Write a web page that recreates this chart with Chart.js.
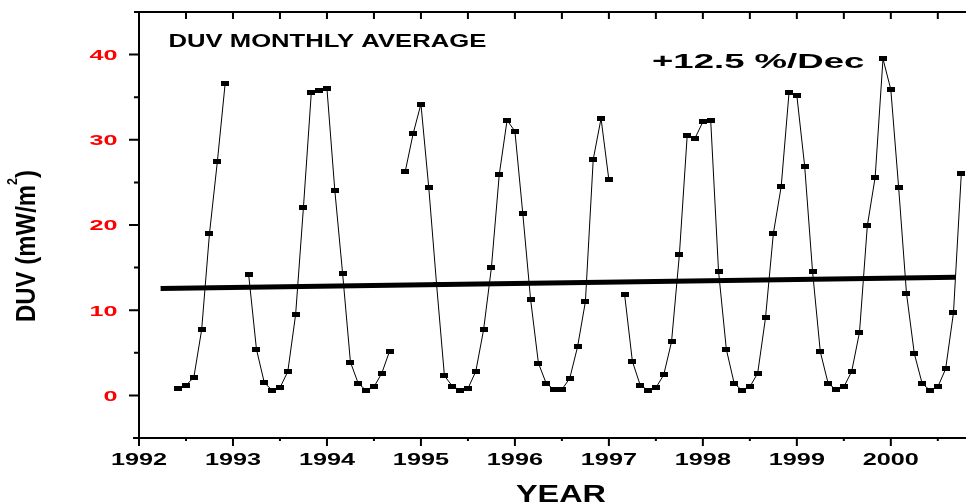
<!DOCTYPE html>
<html>
<head>
<meta charset="utf-8">
<script src="https://cdn.jsdelivr.net/npm/chart.js@4.4.0/dist/chart.umd.min.js"></script>
<style>
  html, body { margin: 0; padding: 0; background: #fff; }
  #wrap { width: 971px; height: 504px; }
</style>
</head>
<body>
<div id="wrap"><canvas id="duv-chart" width="971" height="504"></canvas></div>
<script>
// monthly DUV averages (mW/m2), Jan..Dec, null = no data
const duv1992 = [null, null, null, null, 0.8, 1.2, 2.1, 7.7, 19.0, 27.4, 36.6, null];
const duv1993 = [null, 14.2, 5.4, 1.5, 0.6, 0.9, 2.8, 9.5, 22.1, 35.5, 35.8, 36.0];
const duv1994 = [24.1, 14.3, 3.9, 1.4, 0.6, 1.0, 2.6, 5.2, null, 26.3, 30.7, 34.2];
const duv1995 = [24.4, 13.0, 2.3, 1.1, 0.6, 0.8, 2.8, 7.7, 15.0, 25.9, 32.3, 31.0];
const duv1996 = [21.4, 11.3, 3.8, 1.4, 0.7, 0.7, 2.0, 5.7, 11.0, 27.7, 32.5, 25.3];
const duv1997 = [null, 11.9, 4.0, 1.2, 0.6, 0.9, 2.4, 6.3, 16.5, 30.5, 30.2, 32.1];
const duv1998 = [32.3, 14.6, 5.4, 1.4, 0.6, 1.0, 2.6, 9.1, 19.0, 24.5, 35.5, 35.2];
const duv1999 = [26.9, 14.6, 5.1, 1.4, 0.7, 1.0, 2.8, 7.4, 19.9, 25.6, 39.5, 35.9];
const duv2000 = [24.4, 12.0, 4.9, 1.4, 0.6, 1.0, 3.1, 9.7, 26.0];

const years = [1992, 1993, 1994, 1995, 1996, 1997, 1998, 1999, 2000];
const yearSeries = [duv1992, duv1993, duv1994, duv1995, duv1996, duv1997, duv1998, duv1999, duv2000];

// linear trend (+12.5 %/decade)
const trendYears = [1992.23, 2000.69];
const trendValues = [12.55, 13.88];

const yearTickLabels = ['1992', '1993', '1994', '1995', '1996', '1997', '1998', '1999', '2000'];
const valueTickLabels = ['0', '10', '20', '30', '40'];

const chartTitle = 'DUV MONTHLY AVERAGE';
const trendLabel = '+12.5 %/Dec';

// decimal year = year + month/12 (Dec lands on the next year)
const points = [];
years.forEach((yr, k) => {
  yearSeries[k].forEach((v, m) => points.push({ x: yr + (m + 1) / 12, y: v }));
});

// small filled black rectangle used as marker
const marker = document.createElement('canvas');
marker.width = 8;
marker.height = 5;
const mctx = marker.getContext('2d');
mctx.fillStyle = '#000';
mctx.fillRect(0, 0, 8, 5);

const FONT = '"Liberation Sans", Arial, sans-serif';

function drawText(ctx, str, px, py, size, sx, align, color) {
  ctx.save();
  ctx.font = 'bold ' + size + 'px ' + FONT;
  ctx.fillStyle = color;
  ctx.textAlign = align;
  ctx.textBaseline = 'alphabetic';
  ctx.translate(px, py);
  ctx.scale(sx, 1);
  ctx.fillText(str, 0, 0);
  ctx.restore();
}

const frame = {
  id: 'frame',
  afterDraw(chart) {
    const { ctx, chartArea: a, scales: { x, y } } = chart;
    ctx.save();
    ctx.strokeStyle = '#000';
    ctx.lineWidth = 2;
    ctx.beginPath();
    ctx.moveTo(a.left, a.top);
    ctx.lineTo(a.left, a.bottom);
    ctx.moveTo(a.left, a.bottom);
    ctx.lineTo(a.right, a.bottom);
    ctx.moveTo(a.left, a.top);
    ctx.lineTo(a.right, a.top);

    // year ticks: major below, half-year minor; top axis ticks point inward
    yearTickLabels.forEach(lbl => {
      const px = x.getPixelForValue(+lbl);
      const ph = x.getPixelForValue(+lbl + 0.5);
      ctx.moveTo(px, a.bottom); ctx.lineTo(px, a.bottom + 8);
      ctx.moveTo(ph, a.bottom); ctx.lineTo(ph, a.bottom + 3);
      ctx.moveTo(px, a.top); ctx.lineTo(px, a.top + 7);
      ctx.moveTo(ph, a.top); ctx.lineTo(ph, a.top + 7);
    });

    // value ticks: major every 10, minor in between
    valueTickLabels.forEach(lbl => {
      const py = y.getPixelForValue(+lbl);
      ctx.moveTo(a.left, py); ctx.lineTo(a.left - 10, py);
      const pm = y.getPixelForValue(+lbl + 5);
      ctx.moveTo(a.left, pm); ctx.lineTo(a.left - 5, pm);
    });
    const pLow = y.getPixelForValue(-5);
    ctx.moveTo(a.left, pLow); ctx.lineTo(a.left - 6, pLow);
    ctx.stroke();

    yearTickLabels.forEach(lbl => {
      drawText(ctx, lbl, x.getPixelForValue(+lbl), 465, 16.3, 1.55, 'center', '#000');
    });
    valueTickLabels.forEach(lbl => {
      drawText(ctx, lbl, 117.5, y.getPixelForValue(+lbl) + 5.4, 15, 1.68, 'right', '#ff0000');
    });

    drawText(ctx, chartTitle, 168.5, 46.7, 17.7, 1.45, 'left', '#000');
    drawText(ctx, trendLabel, 652, 68, 21, 1.74, 'left', '#000');
    drawText(ctx, 'YEAR', 561, 502, 24, 1.35, 'center', '#000');

    // rotated y title with superscript
    ctx.save();
    ctx.translate(35, 246);
    ctx.rotate(-Math.PI / 2);
    ctx.fillStyle = '#000';
    ctx.textBaseline = 'alphabetic';
    ctx.textAlign = 'left';
    const big = 'bold 27px ' + FONT;
    const small = 'bold 14px ' + FONT;
    ctx.font = big;
    const w1 = ctx.measureText('DUV (mW/m').width;
    const w3 = ctx.measureText(')').width;
    ctx.font = small;
    const w2 = ctx.measureText('2').width;
    const total = w1 + w2 + w3;
    ctx.scale(152 / total, 1);
    const start = -total / 2;
    ctx.font = big;
    ctx.fillText('DUV (mW/m', start, 0);
    ctx.fillText(')', start + w1 + w2, 0);
    ctx.font = small;
    ctx.fillText('2', start + w1, -18);
    ctx.restore();

    ctx.restore();
  }
};

new Chart(document.getElementById('duv-chart').getContext('2d'), {
  type: 'line',
  data: {
    datasets: [
      {
        label: 'Trend',
        data: trendYears.map((yr, i) => ({ x: yr, y: trendValues[i] })),
        borderColor: '#000',
        borderWidth: 5,
        pointRadius: 0,
        tension: 0
      },
      {
        label: 'DUV',
        data: points,
        borderColor: '#000',
        borderWidth: 1,
        pointStyle: marker,
        pointRadius: 4,
        spanGaps: false,
        tension: 0
      }
    ]
  },
  options: {
    responsive: false,
    animation: false,
    devicePixelRatio: 1,
    events: [],
    layout: { padding: { left: 139, top: 12, right: 0, bottom: 66 } },
    scales: {
      x: { type: 'linear', min: 1992, max: 2000.8, display: false },
      y: { type: 'linear', min: -5, max: 45, display: false }
    },
    plugins: {
      legend: { display: false },
      tooltip: { enabled: false }
    }
  },
  plugins: [frame]
});
</script>
</body>
</html>
